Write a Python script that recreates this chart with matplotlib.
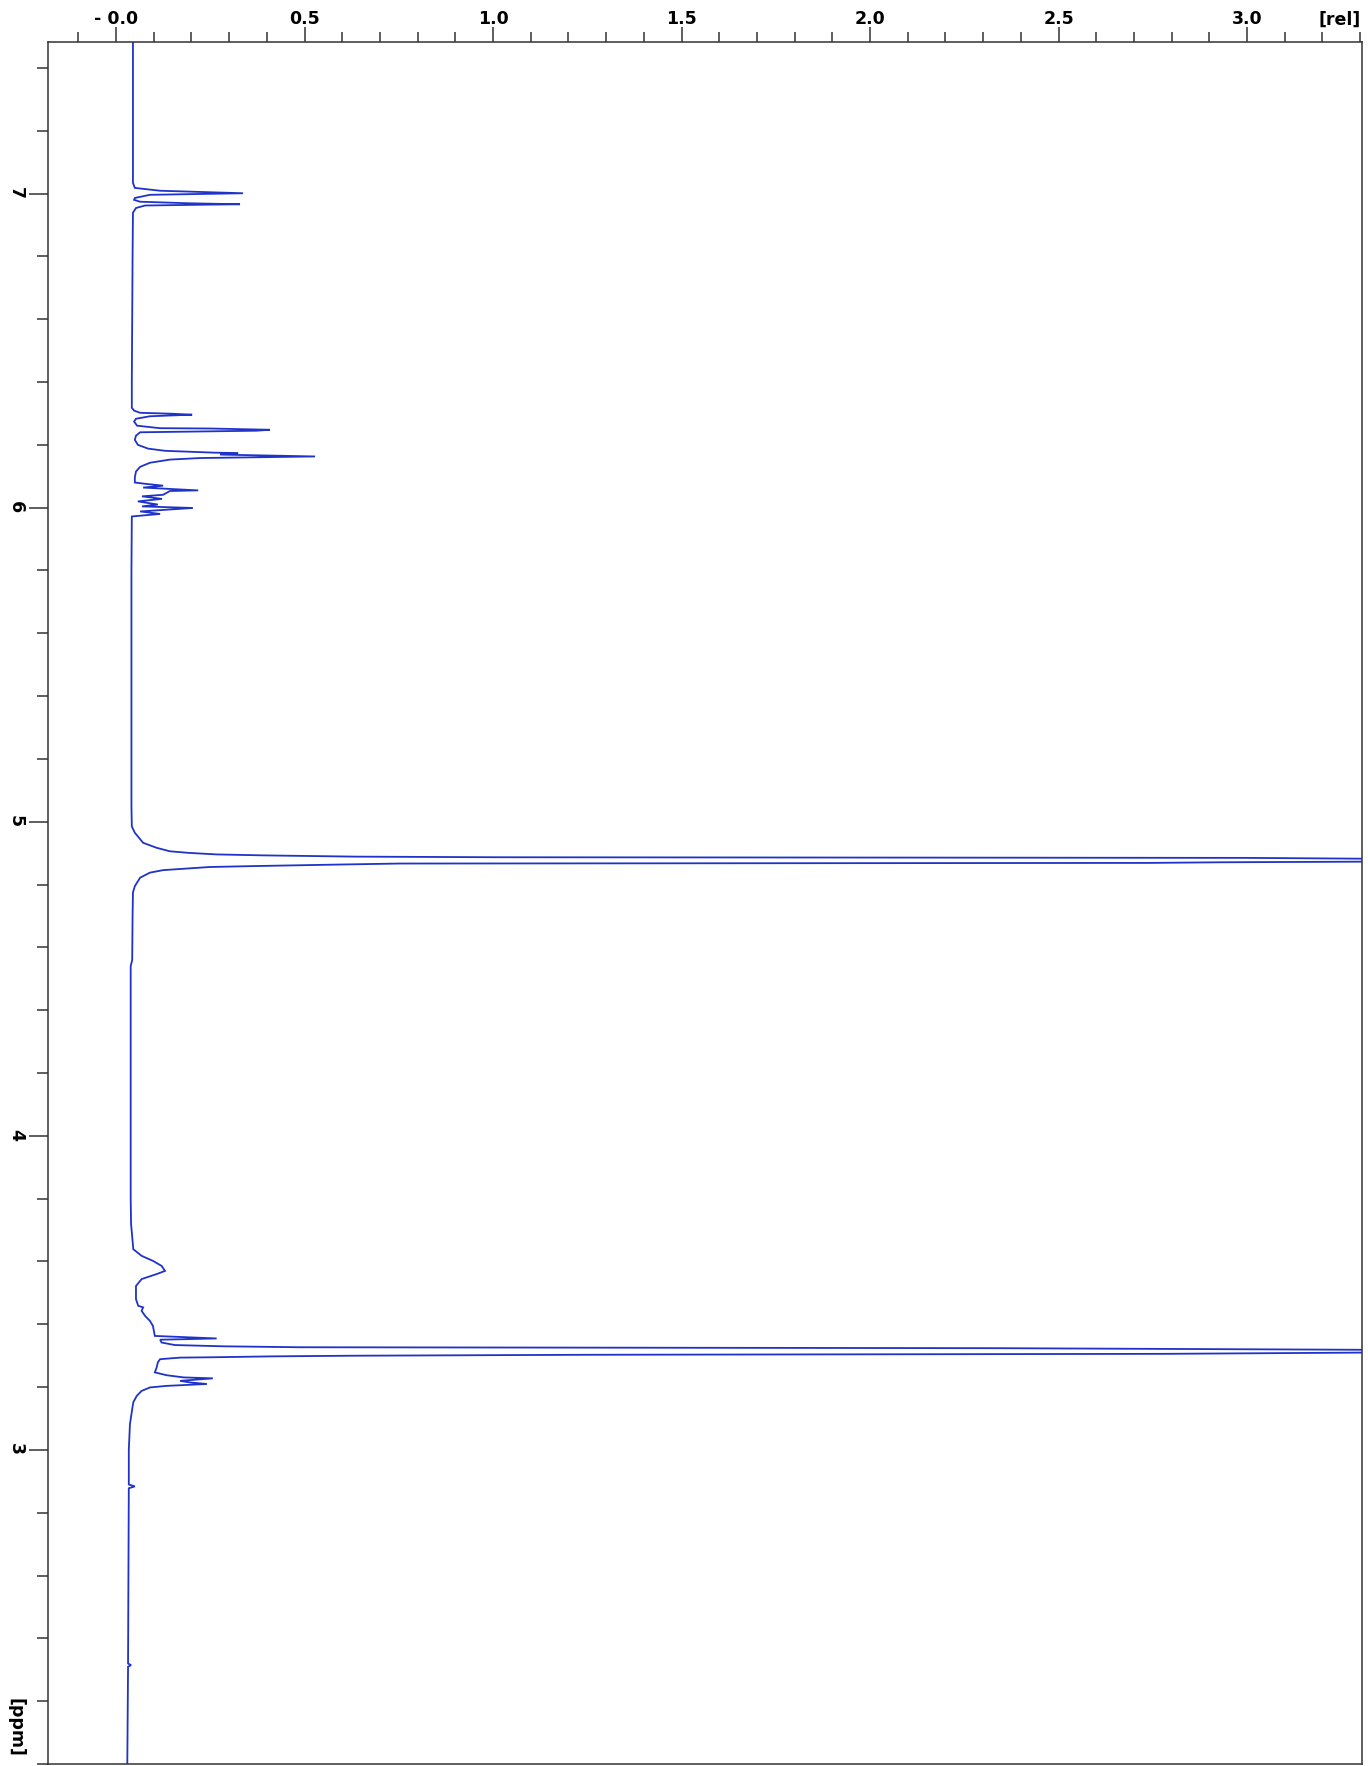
import matplotlib.pyplot as plt
from matplotlib.ticker import FixedLocator, MultipleLocator, FixedFormatter
import matplotlib.transforms as mtransforms

plt.rcParams['font.family'] = ['DejaVu Sans']
plt.rcParams['font.weight'] = 'bold'

# 1H spectrum trace, chemical shift [ppm] vs. relative intensity [rel]
ppm = [7.483, 7.30, 7.10, 7.034, 7.018, 7.009, 7.001, 6.996, 6.986, 6.980, 6.974,
       6.969, 6.966, 6.962, 6.954, 6.939, 6.80, 6.60, 6.40, 6.318,
       6.309, 6.302, 6.299, 6.296, 6.291, 6.283, 6.274, 6.261, 6.253, 6.252,
       6.248, 6.245, 6.240, 6.229, 6.216, 6.200, 6.188, 6.181, 6.175, 6.174,
       6.169, 6.163, 6.158, 6.153, 6.143, 6.130, 6.115, 6.096, 6.080,
       6.076, 6.070, 6.064, 6.055, 6.053, 6.041, 6.036, 6.028, 6.020, 6.010,
       6.004, 5.999, 5.988, 5.980, 5.972, 5.80, 5.50, 5.20, 5.05, 4.985,
       4.965, 4.933, 4.917, 4.906, 4.901, 4.896, 4.893, 4.889, 4.887, 4.885,
       4.880, 4.873, 4.871, 4.869, 4.867, 4.864, 4.859, 4.856, 4.850, 4.846,
       4.838, 4.822, 4.795, 4.775, 4.70, 4.56, 4.54, 4.30, 4.00, 3.80, 3.719,
       3.639, 3.618, 3.602, 3.586, 3.570, 3.560, 3.544, 3.522, 3.480, 3.459,
       3.454, 3.443, 3.427, 3.411, 3.395, 3.363, 3.355, 3.351, 3.342, 3.334,
       3.330, 3.327, 3.324, 3.319, 3.314, 3.310, 3.306, 3.303, 3.300, 3.298,
       3.295, 3.294, 3.289, 3.279, 3.263, 3.247, 3.238, 3.231, 3.228, 3.220,
       3.215, 3.210, 3.204, 3.199, 3.188, 3.172, 3.152, 3.130, 3.082, 3.00,
       2.890, 2.884, 2.878, 2.60, 2.320, 2.315, 2.310, 2.15, 2.00]
rel = [0.045, 0.045, 0.045, 0.045, 0.050, 0.117, 0.337, 0.090, 0.050, 0.048, 0.064,
       0.196, 0.329, 0.077, 0.053, 0.045, 0.044, 0.043, 0.042, 0.042,
       0.048, 0.064, 0.149, 0.202, 0.090, 0.053, 0.048, 0.056, 0.117, 0.249,
       0.408, 0.373, 0.064, 0.053, 0.050, 0.058, 0.085, 0.130, 0.263, 0.324,
       0.276, 0.528, 0.223, 0.143, 0.090, 0.064, 0.053, 0.050, 0.050,
       0.077, 0.125, 0.072, 0.218, 0.143, 0.125, 0.069, 0.122, 0.058, 0.111,
       0.069, 0.204, 0.064, 0.117, 0.042, 0.041, 0.041, 0.041, 0.041, 0.042,
       0.050, 0.072, 0.108, 0.143, 0.192, 0.267, 0.390, 0.634, 1.019, 3.000,
       3.600, 3.313, 2.930, 2.740, 0.753, 0.602, 0.369, 0.249, 0.174, 0.125,
       0.090, 0.064, 0.050, 0.045, 0.044, 0.043, 0.039, 0.039, 0.039, 0.039, 0.040,
       0.046, 0.068, 0.098, 0.121, 0.130, 0.108, 0.068, 0.053, 0.053, 0.059,
       0.072, 0.068, 0.077, 0.090, 0.098, 0.103, 0.267, 0.117, 0.121, 0.156,
       0.284, 0.488, 2.345, 3.313, 3.600, 3.313, 2.780, 1.244, 0.621, 0.416,
       0.249, 0.170, 0.117, 0.111, 0.108, 0.103, 0.134, 0.179, 0.257, 0.170,
       0.196, 0.241, 0.134, 0.090, 0.068, 0.055, 0.046, 0.043, 0.037, 0.034,
       0.034, 0.050, 0.034, 0.033, 0.032, 0.040, 0.032, 0.031, 0.030]

major_ppm = [3, 4, 5, 6, 7]
major_rel = [0.0, 0.5, 1.0, 1.5, 2.0, 2.5, 3.0]
rel_labels = ['- 0.0', '0.5', '1.0', '1.5', '2.0', '2.5', '3.0']

fig = plt.figure(figsize=(13.68, 17.66), dpi=100)
ax = fig.add_axes([0.03545, 0.0011, 0.9605, 0.9752])

ax.plot(rel, ppm, color='#1f33c8', lw=1.3, solid_joinstyle='miter')

# shift runs 7.48 at the top down to 2.0 at the bottom
ax.set_xlim(-0.179, 3.306)
ax.set_ylim(2.0, 7.483)

# intensity axis on top
ax.xaxis.tick_top()
ax.xaxis.set_major_locator(FixedLocator(major_rel))
ax.xaxis.set_major_formatter(FixedFormatter(rel_labels))
ax.xaxis.set_minor_locator(MultipleLocator(0.1))
ax.tick_params(axis='x', which='major', length=11, width=1.1, pad=-1,
               labelsize=12.5, colors='#333333', labelcolor='black')
ax.tick_params(axis='x', which='minor', length=7, width=1.1, colors='#333333')
ax.text(3.245, 1.0 + 22 / 1722, '[rel]', transform=mtransforms.blended_transform_factory(ax.transData, ax.transAxes),
        ha='center', va='center', fontsize=12.5, fontweight='bold')

# shift axis on the left, labels turned
ax.yaxis.set_major_locator(FixedLocator(major_ppm))
ax.yaxis.set_minor_locator(MultipleLocator(0.2))
ax.tick_params(axis='y', which='major', length=14, width=1.1, pad=3,
               labelsize=12.5, colors='#333333', labelcolor='black')
ax.tick_params(axis='y', which='minor', length=8, width=1.1, colors='#333333')
for lab in ax.get_yticklabels():
    lab.set_rotation(-90)
    lab.set_fontweight('bold')
for lab in ax.get_xticklabels():
    lab.set_fontweight('bold')
ax.text(-0.025, 2.115, '[ppm]', transform=mtransforms.blended_transform_factory(ax.transAxes, ax.transData),
        rotation=-90, ha='center', va='center', fontsize=12.5, fontweight='bold')

for s in ax.spines.values():
    s.set_color('#333333')
    s.set_linewidth(1.1)

fig.savefig('out.png', dpi=100)
